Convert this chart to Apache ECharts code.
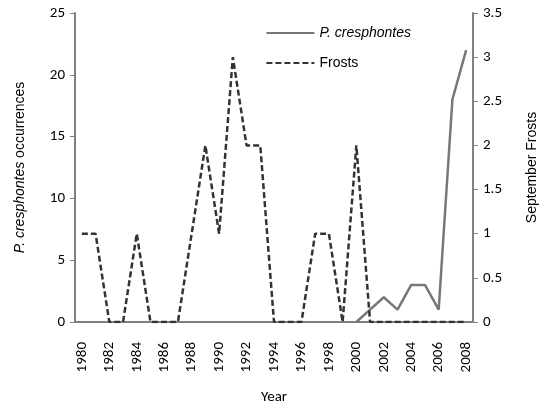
<!DOCTYPE html>
<html>
<head>
<meta charset="utf-8">
<script src="https://cdn.jsdelivr.net/npm/echarts@6/dist/echarts.min.js"></script>
<style>
	html,body{margin:0;padding:0;background:#fff;}
	#main{width:544px;height:405px;}
</style>
</head>
<body>
<div id="main"></div>
<script>
	var years=[];
	for(var y=1980;y<=2008;y++){years.push(String(y));}
	// P. cresphontes occurrences (left axis), starts in 2000
	var cresphontes=[null,null,null,null,null,null,null,null,null,null,
		null,null,null,null,null,null,null,null,null,null,
		0,1,2,1,3,3,1,18,22];
	// September frosts (right axis)
	var frosts=[1,1,0,0,1,0,0,0,1,2,
		1,3,2,2,0,0,0,1,1,0,
		2,0,0,0,0,0,0,0,0];
	var leftTicks=[0,25,5];
	var rightTicks=[0,3.5,0.5];

	var axisFont='Carlito, Lato, "Open Sans", sans-serif';
	var nameFont='"Liberation Sans", Arial, sans-serif';
	var myChart=echarts.init(document.getElementById("main"));
	var option={
		animation:false,
		grid:{left:75,right:71,top:13,bottom:83,containLabel:false,outerBoundsMode:'none'},
		legend:{
			right:128,
			top:21,
			orient:'vertical',
			itemWidth:48,
			itemHeight:10,
			itemGap:16,
			itemStyle:{opacity:0},
			textStyle:{fontFamily:nameFont,fontSize:14,color:'#000'},
			data:[
				{name:'P. cresphontes',textStyle:{fontStyle:'italic'}},
				{name:'Frosts'}
			]
		},
		xAxis:{
			type:'category',
			data:years,
			boundaryGap:true,
			name:'Year',
			nameLocation:'middle',
			nameGap:68,
			nameTextStyle:{fontFamily:axisFont,fontSize:15,color:'#000'},
			axisLine:{lineStyle:{color:'#808080',width:2}},
			axisTick:{show:false},
			axisLabel:{interval:1,rotate:90,fontFamily:axisFont,fontSize:15,color:'#000',margin:20}
		},
		yAxis:[
			{
				type:'value',
				min:leftTicks[0],max:leftTicks[1],interval:leftTicks[2],
				name:'{i|P. cresphontes} occurrences',
				nameLocation:'middle',
				nameGap:48,
				nameTextStyle:{
					fontFamily:nameFont,fontSize:14,color:'#000',
					rich:{i:{fontFamily:nameFont,fontSize:14,color:'#000',fontStyle:'italic'}}
				},
				axisLine:{show:true,lineStyle:{color:'#808080',width:2}},
				axisTick:{show:true,length:5,lineStyle:{color:'#808080',width:1}},
				splitLine:{show:false},
				axisLabel:{fontFamily:axisFont,fontSize:15,color:'#000',margin:10}
			},
			{
				type:'value',
				position:'right',
				min:rightTicks[0],max:rightTicks[1],interval:rightTicks[2],
				name:'September Frosts',
				nameLocation:'middle',
				nameGap:52,
				nameRotate:90,
				nameTextStyle:{fontFamily:nameFont,fontSize:14,color:'#000'},
				axisLine:{show:true,lineStyle:{color:'#808080',width:2}},
				axisTick:{show:true,length:5,lineStyle:{color:'#808080',width:1}},
				splitLine:{show:false},
				axisLabel:{fontFamily:axisFont,fontSize:15,color:'#000',margin:10}
			}
		],
		series:[
			{
				name:'P. cresphontes',
				type:'line',
				yAxisIndex:0,
				data:cresphontes,
				symbol:'none',
				color:'#777777',
				lineStyle:{color:'#777777',width:2.5}
			},
			{
				name:'Frosts',
				type:'line',
				yAxisIndex:1,
				data:frosts,
				symbol:'none',
				color:'#333333',
				lineStyle:{color:'#333333',width:2.5,type:[6,3]}
			}
		]
	};
	myChart.setOption(option);
</script>
</body>
</html>
